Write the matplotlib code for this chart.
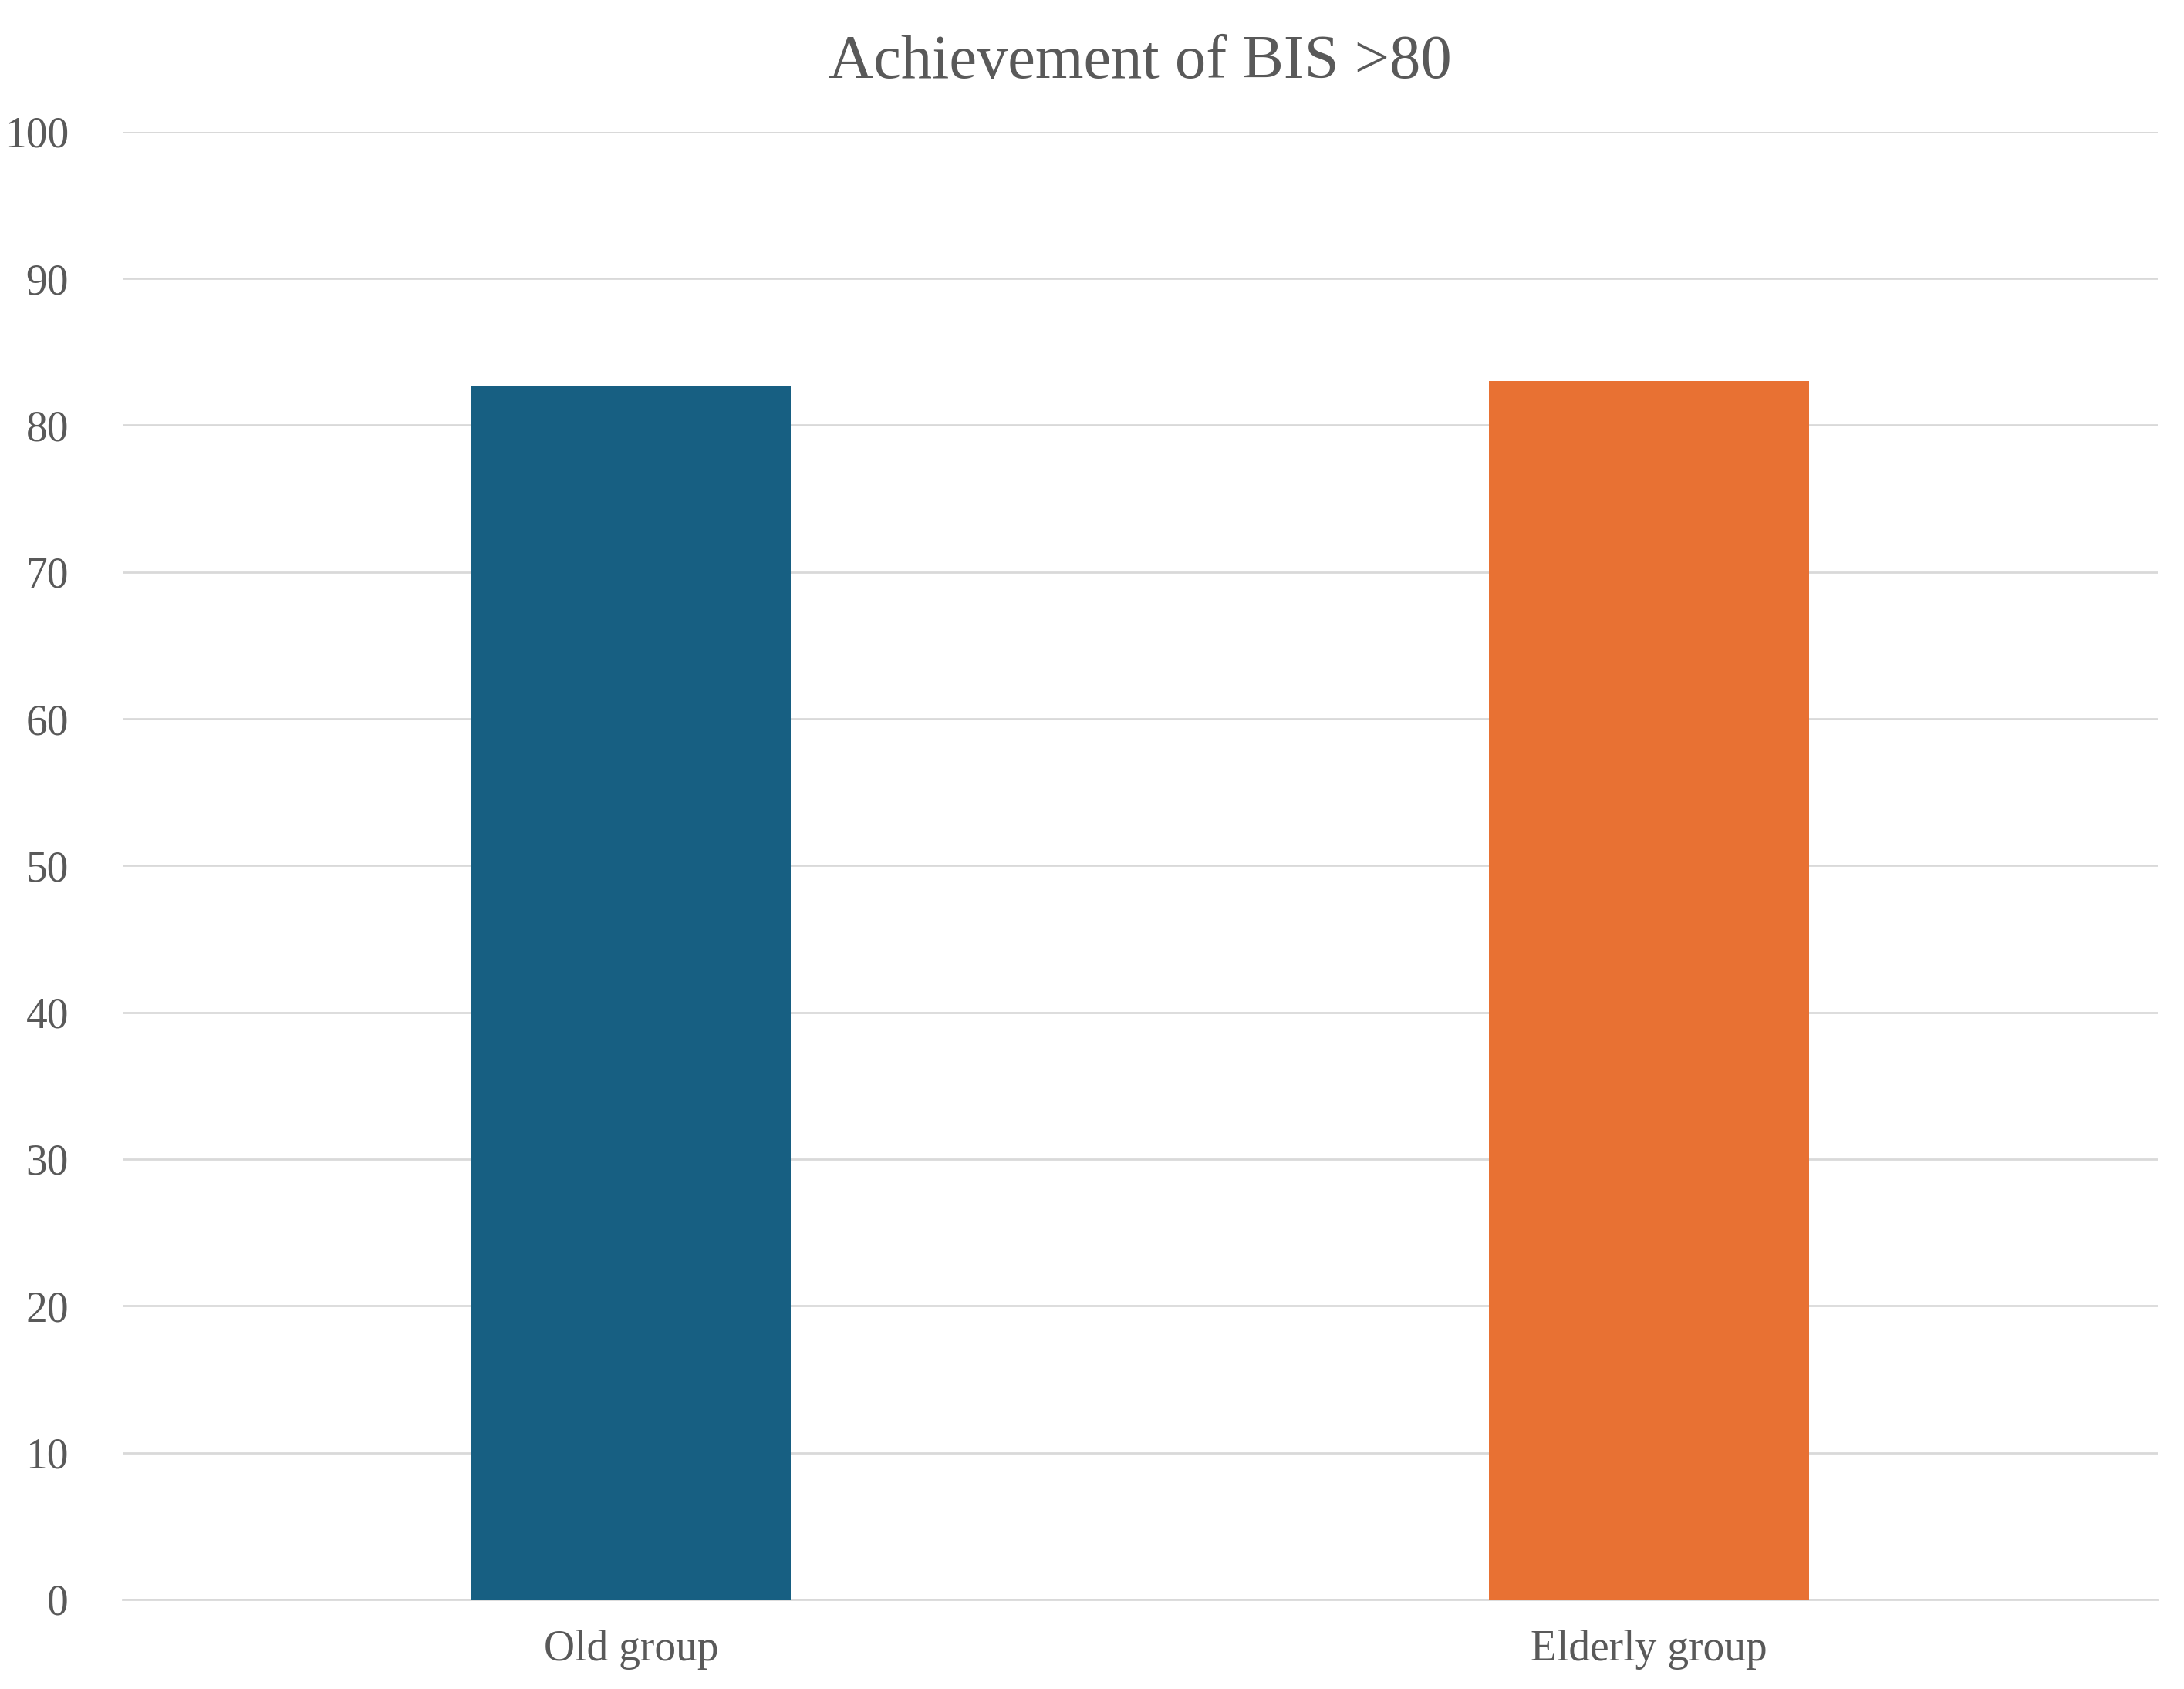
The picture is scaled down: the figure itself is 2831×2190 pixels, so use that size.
import matplotlib.pyplot as plt

categories = ["Old group", "Elderly group"]
values = [82.7, 83.0]
colors = ["#175F82", "#E87133"]
yticks = [0, 10, 20, 30, 40, 50, 60, 70, 80, 90, 100]

plt.rcParams['font.family'] = ['Liberation Serif', 'DejaVu Serif']
grey = "#595959"

fig = plt.figure(figsize=(28.31, 21.9), dpi=100)
ax = fig.add_axes([0.056, 0.053, 0.932, 0.869])
ax.bar(range(len(categories)), values, width=0.314, color=colors, zorder=3)
ax.set_xlim(-0.5, 1.5)
ax.set_ylim(0, 100)
ax.set_yticks(yticks)
ax.set_xticks(range(len(categories)))
ax.set_xticklabels(categories)
ax.grid(axis='y', color="#D9D9D9", linewidth=2, zorder=0)
for s in ['top', 'right', 'left']:
    ax.spines[s].set_visible(False)
ax.spines['bottom'].set_color("#D9D9D9")
ax.spines['bottom'].set_linewidth(2)
ax.tick_params(length=0, labelsize=40, colors=grey, pad=28)
ax.tick_params(axis='y', pad=50)
for lbl in ax.get_yticklabels():
    lbl.set_horizontalalignment('right')
ax.set_title("Achievement of BIS >80", fontsize=58, color=grey, pad=50)

fig.savefig("out.png", dpi=100, facecolor="white")
